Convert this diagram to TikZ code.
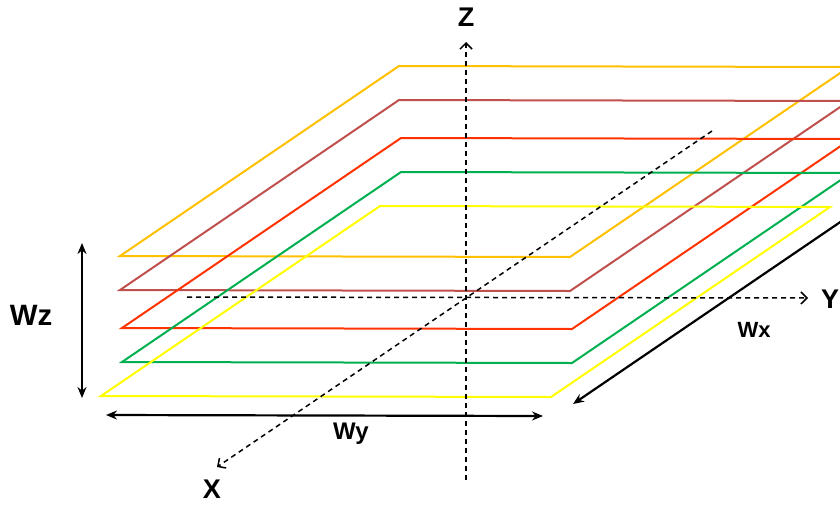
\documentclass[tikz,border=0pt]{standalone}
\usepackage{fontspec}
\setmainfont{Liberation Sans}
\usetikzlibrary{arrows.meta}

\definecolor{layerorange}{RGB}{255,192,0}
\definecolor{layerbrown}{RGB}{192,80,77}
\definecolor{layerred}{RGB}{255,51,0}
\definecolor{layergreen}{RGB}{0,176,80}
\definecolor{layeryellow}{RGB}{255,255,0}

\begin{document}
\begin{tikzpicture}[x=0.5pt, y=-0.5pt,
  layer/.style={line width=1pt, line join=miter},
  axis/.style={line width=0.75pt, dash pattern=on 2.5pt off 2pt, -{Straight Barb[length=3pt,width=6pt]}},
  dimline/.style={line width=1.1pt, {Stealth[length=5.5pt,width=4.5pt]}-{Stealth[length=5.5pt,width=4.5pt]}},
  axislabel/.style={font=\fontsize{13.5}{16}\selectfont\bfseries},
  dimlabel/.style={font=\bfseries}]

\useasboundingbox (0,0) rectangle (840,504);
\clip (0,0) rectangle (840,504);

% --- Configuration ---
\def\frontlen{450}   % front edge of a layer
\def\depthx{279}     % receding edge
\def\depthy{-190}

% --- Layers (top to bottom) ---
\foreach \col/\xx/\yy in {layerorange/120/256, layerbrown/120/290,
                          layerred/122/328, layergreen/122/362,
                          layeryellow/101/396} {
  \draw[layer, \col] (\xx,\yy) -- ++(\frontlen,1) -- ++(\depthx,\depthy)
                     -- ++(-\frontlen,-1) -- cycle;
}

% --- Axes ---
\coordinate (zbot) at (466,480);
\coordinate (ztop) at (466,42);
\coordinate (yleft) at (187,297);
\coordinate (yright) at (808,298);
\coordinate (xback) at (712,131);
\coordinate (xfront) at (217,467);

\draw[axis] (zbot) -- (ztop);
\draw[axis] (yleft) -- (yright);
\draw[axis] (xback) -- (xfront);

\node[axislabel] (zlab) at (466,17) {Z};
\node[axislabel, inner sep=0pt] (ylab) at (830,299) {Y};
\node[axislabel] (xlab) at (212,489) {X};

% --- Dimensions ---
\coordinate (wztop) at (82,243);
\coordinate (wzbot) at (82,398);
\coordinate (wyleft) at (106,415);
\coordinate (wyright) at (543,416);
\coordinate (wxfront) at (573,404);
\coordinate (wxback) at (855,212);

\draw[dimline] (wztop) -- (wzbot);
\draw[dimline] (wyleft) -- (wyright);
\draw[dimline] (wxfront) -- (wxback);

\node[dimlabel, font=\fontsize{14.7}{17}\selectfont\bfseries] (wzlab) at (31,315) {Wz};
\node[dimlabel, font=\fontsize{12}{14}\selectfont\bfseries] (wylab) at (351,434) {Wy};
\node[dimlabel, font=\fontsize{11}{13}\selectfont\bfseries] (wxlab) at (754,330) {Wx};

\end{tikzpicture}
\end{document}
